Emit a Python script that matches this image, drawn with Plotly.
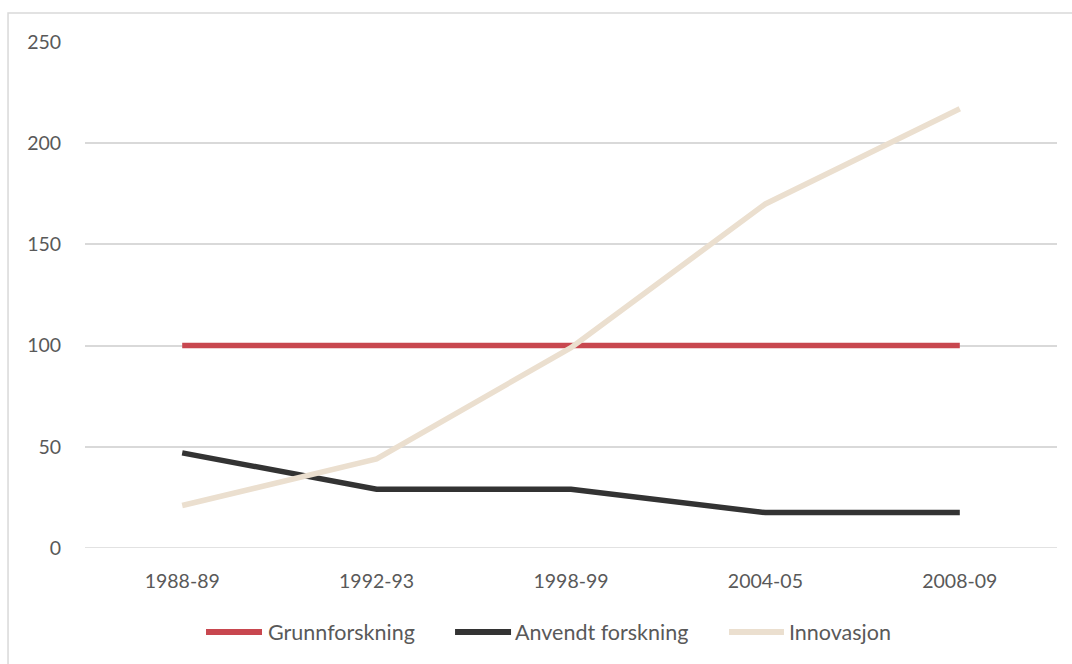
import plotly.graph_objects as go

categories = ["1988-89", "1992-93", "1998-99", "2004-05", "2008-09"]
grunnforskning = [100, 100, 100, 100, 100]
anvendt = [47, 29, 29, 17.5, 17.5]
innovasjon = [21, 44, 99, 170, 217]
y_ticks = [0, 50, 100, 150, 200, 250]

series = [
    ("Grunnforskning", grunnforskning, "#C8474F"),
    ("Anvendt forskning", anvendt, "#333333"),
    ("Innovasjon", innovasjon, "#EBDFCF"),
]

fig = go.Figure()
for name, vals, color in series:
    fig.add_trace(go.Scatter(x=categories, y=vals, mode="lines", name=name,
                             line=dict(color=color, width=5.5), showlegend=False))

fig.update_layout(
    width=1072, height=664,
    margin=dict(l=85, r=15, t=42, b=116),
    paper_bgcolor="white", plot_bgcolor="white",
    font=dict(family="Lato, Open Sans, sans-serif", size=19, color="#595959"),
    xaxis=dict(type="category", range=[-0.5, 4.5], showgrid=False, showline=False,
               zeroline=False, ticks="outside", ticklen=16, tickcolor="rgba(0,0,0,0)",
               tickfont=dict(size=19.5, color="#595959")),
    yaxis=dict(range=[0, 250], tickvals=y_ticks, showgrid=True, gridcolor="#D9D9D9",
               gridwidth=1.5, zeroline=False, showline=False, ticks="outside",
               ticklen=19, tickcolor="rgba(0,0,0,0)", tickfont=dict(size=19.5, color="#595959")),
    shapes=[dict(type="rect", xref="paper", yref="paper", x0=-0.0792, x1=1.05,
                 y0=-0.3, y1=1.0573, line=dict(color="#D9D9D9", width=1.5),
                 fillcolor="rgba(0,0,0,0)", layer="below")],
)
fig.add_shape(type="line", xref="paper", yref="y", x0=0, x1=1, y0=0, y1=0,
              line=dict(color="#D9D9D9", width=1.5), layer="below")

# Custom legend (long line keys like the reference)
leg_y = -0.166
leg_pos = [(0.1245, 0.1821, 0.1866), (0.3807, 0.4383, 0.4403), (0.6626, 0.7191, 0.7222)]
for (name, _, color), (lx0, lx1, tx) in zip(series, leg_pos):
    fig.add_shape(type="line", xref="paper", yref="paper", x0=lx0, x1=lx1, y0=leg_y, y1=leg_y,
                  line=dict(color=color, width=6))
    fig.add_annotation(xref="paper", yref="paper", x=tx, y=leg_y, text=name, showarrow=False,
                       xanchor="left", yanchor="middle", font=dict(size=21.5, color="#595959"))

fig.write_html("out.html")
